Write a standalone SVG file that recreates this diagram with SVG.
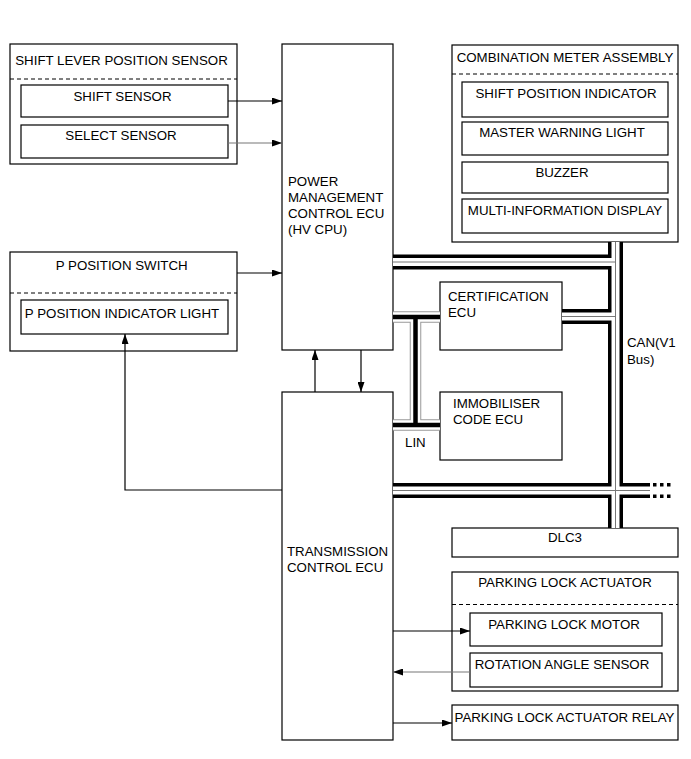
<svg xmlns="http://www.w3.org/2000/svg" width="691" height="759" viewBox="0 0 691 759">
<style>
.box{fill:#fff;stroke:#000;stroke-width:1.2}
.dash{stroke:#000;stroke-width:1;stroke-dasharray:4 3;fill:none}
.t{font-family:"Liberation Sans",Arial,sans-serif;font-size:13.3px;fill:#000}
.c{text-anchor:middle}
.w{stroke:#000;stroke-width:1.2;fill:none}
.g{stroke:#777;stroke-width:1.2;fill:none}
.canB{stroke:#000;stroke-width:15;fill:none;stroke-linecap:butt;stroke-linejoin:miter}
.canW{stroke:#fff;stroke-width:8;fill:none;stroke-linecap:butt;stroke-linejoin:miter}
.canC{stroke:#777;stroke-width:1;fill:none}
.canD{stroke:#000;stroke-width:3.5;fill:none;stroke-dasharray:3.5 3.5}
.linG{stroke:#999;stroke-width:11.5;fill:none;stroke-linecap:butt}
.linW{stroke:#fff;stroke-width:9.5;fill:none;stroke-linecap:butt}
.linB{stroke:#000;stroke-width:4.5;fill:none;stroke-linecap:butt}
</style>
<defs>
<marker id="ah" markerUnits="userSpaceOnUse" markerWidth="10" markerHeight="7" refX="10" refY="3.5" orient="auto">
<path d="M0,0 L10,3.5 L0,7 Z" fill="#000"/>
</marker>
</defs>
<rect width="691" height="759" fill="#fff"/>

<g id="shift-lever-position-sensor">
  <rect class="box" x="10" y="44" width="227" height="120"/>
  <line class="dash" x1="10" y1="79" x2="237" y2="79"/>
  <text class="t c" x="121.5" y="65">SHIFT LEVER POSITION SENSOR</text>
  <g id="shift-sensor">
    <rect class="box" x="21" y="85" width="207" height="32"/>
    <text class="t c" x="122.5" y="101">SHIFT SENSOR</text>
  </g>
  <g id="select-sensor">
    <rect class="box" x="21" y="125" width="207" height="33"/>
    <text class="t c" x="121" y="140">SELECT SENSOR</text>
  </g>
</g>

<g id="p-position-switch">
  <rect class="box" x="10" y="252" width="227" height="99"/>
  <line class="dash" x1="10" y1="293" x2="237" y2="293"/>
  <text class="t c" x="121.7" y="270">P POSITION SWITCH</text>
  <g id="p-position-indicator-light">
    <rect class="box" x="21" y="300" width="207" height="34"/>
    <text class="t c" x="122" y="318">P POSITION INDICATOR LIGHT</text>
  </g>
</g>

<g id="power-management-ecu">
  <rect class="box" x="282" y="44" width="111" height="306"/>
  <text class="t" x="288" y="186">POWER</text>
  <text class="t" x="288" y="202">MANAGEMENT</text>
  <text class="t" x="288" y="218">CONTROL ECU</text>
  <text class="t" x="288" y="234">(HV CPU)</text>
</g>

<g id="transmission-control-ecu">
  <rect class="box" x="282" y="392" width="111" height="348"/>
  <text class="t" x="287" y="556">TRANSMISSION</text>
  <text class="t" x="287" y="572">CONTROL ECU</text>
</g>

<g id="combination-meter-assembly">
  <rect class="box" x="452" y="45" width="226" height="197"/>
  <line class="dash" x1="452" y1="74" x2="678" y2="74"/>
  <text class="t c" x="565" y="61.5">COMBINATION METER ASSEMBLY</text>
  <g id="shift-position-indicator">
    <rect class="box" x="462" y="82" width="206" height="35"/>
    <text class="t c" x="566" y="97.5">SHIFT POSITION INDICATOR</text>
  </g>
  <g id="master-warning-light">
    <rect class="box" x="462" y="122" width="206" height="33"/>
    <text class="t c" x="562" y="136.5">MASTER WARNING LIGHT</text>
  </g>
  <g id="buzzer">
    <rect class="box" x="462" y="162" width="206" height="31"/>
    <text class="t c" x="562" y="176.5">BUZZER</text>
  </g>
  <g id="multi-information-display">
    <rect class="box" x="462" y="199" width="206" height="34"/>
    <text class="t c" x="565" y="215">MULTI-INFORMATION DISPLAY</text>
  </g>
</g>

<g id="certification-ecu">
  <rect class="box" x="440" y="282" width="122" height="68"/>
  <text class="t" x="448" y="301">CERTIFICATION</text>
  <text class="t" x="448" y="317">ECU</text>
</g>

<g id="immobiliser-code-ecu">
  <rect class="box" x="440" y="392" width="122" height="68"/>
  <text class="t" x="453" y="408">IMMOBILISER</text>
  <text class="t" x="453" y="424">CODE ECU</text>
</g>

<g id="dlc3">
  <rect class="box" x="452" y="528" width="226" height="29"/>
  <text class="t c" x="565" y="542">DLC3</text>
</g>

<g id="parking-lock-actuator">
  <rect class="box" x="452" y="572" width="226" height="119"/>
  <line class="dash" x1="452" y1="604.5" x2="678" y2="604.5"/>
  <text class="t c" x="565" y="587">PARKING LOCK ACTUATOR</text>
  <g id="parking-lock-motor">
    <rect class="box" x="470" y="613" width="192" height="33"/>
    <text class="t c" x="564" y="628.5">PARKING LOCK MOTOR</text>
  </g>
  <g id="rotation-angle-sensor">
    <rect class="box" x="470" y="653" width="192" height="34"/>
    <text class="t c" x="562" y="668.5">ROTATION ANGLE SENSOR</text>
  </g>
</g>

<g id="parking-lock-actuator-relay">
  <rect class="box" x="452" y="705" width="226" height="35"/>
  <text class="t c" x="564.5" y="722">PARKING LOCK ACTUATOR RELAY</text>
</g>

<g id="connectors">
  <g id="can-bus">
    <path class="canB" d="M393,262 H615.5 M615.5,242 V528 M562,316.5 H615.5 M393,490.5 H650"/>
    <path class="canW" d="M393,262 H615.5 M615.5,242 V528 M562,316.5 H615.5 M393,490.5 H650"/>
    <path class="canC" d="M393,262 H615.5 M615.5,242 V528 M562,316.5 H615.5 M393,490.5 H650"/>
    <path class="canD" d="M653,484.75 H673 M653,496.25 H673"/>
  </g>
  <g id="lin-bus">
    <path class="linG" d="M393,317 H440 M415.5,317 V425 M393,425 H440"/>
    <path class="linW" d="M393,317 H440 M415.5,317 V425 M393,425 H440"/>
    <path class="linB" d="M393,317 H440 M415.5,314.75 V427.25 M393,425 H440"/>
  </g>
  <path class="w" d="M228,101 H282" marker-end="url(#ah)"/>
  <path class="g" d="M228,143 H282" marker-end="url(#ah)"/>
  <path class="w" d="M237,273 H282" marker-end="url(#ah)"/>
  <path class="w" d="M282,490 H125 V334" marker-end="url(#ah)"/>
  <path class="w" d="M315,392 V350" marker-end="url(#ah)"/>
  <path class="w" d="M361,350 V392" marker-end="url(#ah)"/>
  <path class="w" d="M393,631 H470" marker-end="url(#ah)"/>
  <path class="g" d="M470,672 H393" marker-end="url(#ah)"/>
  <path class="w" d="M393,723 H452" marker-end="url(#ah)"/>
</g>

<g id="labels">
  <text class="t" x="627" y="347">CAN(V1</text>
  <text class="t" x="627" y="364">Bus)</text>
  <text class="t" x="405" y="447">LIN</text>
</g>
</svg>
